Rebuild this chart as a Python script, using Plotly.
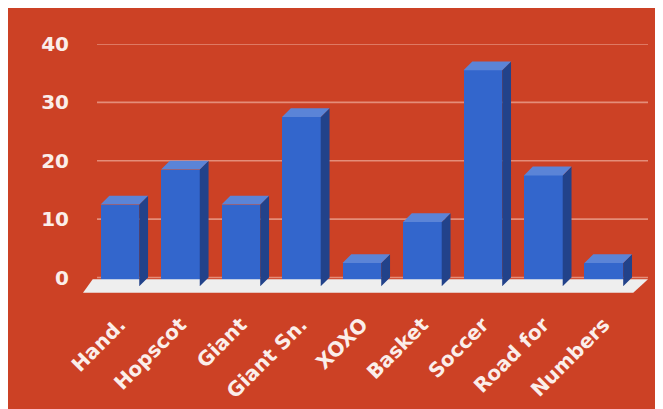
import plotly.graph_objects as go

# ---- data ----
categories = ["Hand.", "Hopscot", "Giant", "Giant Sn.", "XOXO", "Basket", "Soccer", "Road for", "Numbers"]
values = [14, 20, 14, 29, 4, 11, 37, 19, 4]
y_ticks = [0, 10, 20, 30, 40]

# ---- styles ----
BG = "#cc4125"
FRONT = "#3366cc"
TOP = "#5b84d7"
SIDE = "#22428a"
FLOOR = "#eeeeee"
GRID = "#e48d79"
TEXT = "#fbeeea"
FONT = "DejaVu Sans"

W, H = 663, 409
OFF = 8  # page body margin
ml = 83.3 - OFF
mt = 44.3 - OFF
mr = W - (647.7 - OFF)
mb = H - (293.0 - OFF)
y_min, y_max = -2.65, 40
x_min, x_max = -0.61, 8.73

px_x = (W - ml - mr) / (x_max - x_min)
px_y = (H - mt - mb) / (y_max - y_min)

bar_w = 0.64
depth_px = 8.8
dx = depth_px / px_x
dy = depth_px / px_y
base = -dy

idx = list(range(len(categories)))

fig = go.Figure()

# floor
fl_back_top = -1.8 / px_y
floor_x = [x_min + 9.7 / px_x, x_max, x_max - 14.7 / px_x, x_min, x_min + 9.7 / px_x]
floor_y = [fl_back_top, fl_back_top, y_min + 0.05, y_min + 0.05, fl_back_top]
fig.add_trace(go.Scatter(x=floor_x, y=floor_y, mode="lines", fill="toself",
                         fillcolor=FLOOR, line=dict(width=0), hoverinfo="skip",
                         showlegend=False))

# front faces
fig.add_trace(go.Bar(x=idx, y=values, base=base, width=bar_w,
                     marker=dict(color=FRONT, line=dict(width=0)),
                     hoverinfo="skip", showlegend=False))

# side and top faces
sx, sy, tx, ty = [], [], [], []
for i, v in zip(idx, values):
    x0, x1 = i - bar_w / 2, i + bar_w / 2
    t = base + v
    sx += [x1, x1 + dx, x1 + dx, x1, x1, None]
    sy += [base, base + dy, t + dy, t, base, None]
    tx += [x0, x1, x1 + dx, x0 + dx, x0, None]
    ty += [t, t, t + dy, t + dy, t, None]
fig.add_trace(go.Scatter(x=sx, y=sy, mode="lines", fill="toself", fillcolor=SIDE,
                         line=dict(width=0), hoverinfo="skip", showlegend=False))
fig.add_trace(go.Scatter(x=tx, y=ty, mode="lines", fill="toself", fillcolor=TOP,
                         line=dict(width=0), hoverinfo="skip", showlegend=False))

# gridlines on the back wall
grid_x0 = x_min + 14 / px_x
for yv in y_ticks:
    fig.add_shape(type="line", xref="x", yref="y", x0=grid_x0, x1=x_max, y0=yv, y1=yv,
                  line=dict(color=GRID, width=1.6), layer="below")

fig.update_layout(
    width=W, height=H,
    margin=dict(l=ml, r=mr, t=mt, b=mb, pad=0),
    paper_bgcolor=BG, plot_bgcolor="rgba(0,0,0,0)",
    font=dict(family=FONT, color=TEXT, size=20, weight="bold"),
    xaxis=dict(range=[x_min, x_max], tickvals=idx, ticktext=categories, tickangle=-45,
               showgrid=False, zeroline=False, showline=False,
               ticks="outside", ticklen=11, tickcolor="rgba(0,0,0,0)",
               tickfont=dict(family=FONT, size=20, color=TEXT, weight="bold")),
    yaxis=dict(range=[y_min, y_max], tickvals=y_ticks, showgrid=False, zeroline=False,
               showline=False, ticks="", ticklabelstandoff=13,
               tickfont=dict(family=FONT, size=20, color=TEXT, weight="bold")),
    bargap=0,
)

fig.write_html("out.html")
